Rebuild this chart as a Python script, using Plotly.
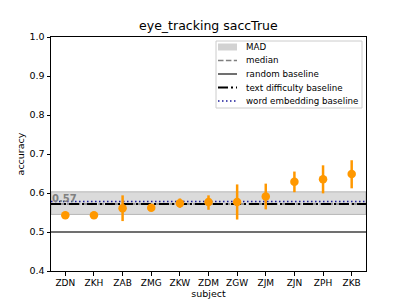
import plotly.graph_objects as go

subjects = ["ZDN", "ZKH", "ZAB", "ZMG", "ZKW", "ZDM", "ZGW", "ZJM", "ZJN", "ZPH", "ZKB"]
accuracy = [0.543, 0.543, 0.561, 0.562, 0.574, 0.577, 0.577, 0.591, 0.629, 0.635, 0.649]
err_plus = [0.0, 0.0, 0.033, 0.008, 0.012, 0.017, 0.045, 0.033, 0.026, 0.036, 0.035]
err_minus = [0.0, 0.0, 0.033, 0.008, 0.012, 0.020, 0.045, 0.033, 0.027, 0.036, 0.037]

median_val = 0.572
mad_low = 0.545
mad_high = 0.603
random_baseline = 0.5
text_difficulty_baseline = 0.572
word_embedding_baseline = 0.578

legend_labels = ["MAD", "median", "random baseline", "text difficulty baseline", "word embedding baseline"]

x_range = [-0.5, len(subjects) - 0.5]
xs = list(range(len(subjects)))

MAD_FILL = "rgba(200,200,200,0.65)"
styles = {
    "median": dict(color="#7f7f7f", dash="5.5px,2.4px", width=1.5),
    "random baseline": dict(color="#404040", dash="solid", width=1.5),
    "text difficulty baseline": dict(color="black", dash="10px,3px,2px,3px", width=2),
    "word embedding baseline": dict(color="#1a1a9a", dash="1.5px,2.5px", width=1.5),
}

fig = go.Figure()

fig.add_trace(go.Scatter(
    x=[x_range[0], x_range[1], x_range[1], x_range[0], x_range[0]],
    y=[mad_low, mad_low, mad_high, mad_high, mad_low],
    fill="toself", fillcolor=MAD_FILL,
    line=dict(color="rgba(170,170,170,0.8)", width=1),
    mode="lines", name="MAD", hoverinfo="skip", showlegend=False))

for name, val in [("median", median_val), ("random baseline", random_baseline),
                  ("text difficulty baseline", text_difficulty_baseline),
                  ("word embedding baseline", word_embedding_baseline)]:
    fig.add_trace(go.Scatter(x=x_range, y=[val]*2, mode="lines", line=styles[name],
                             name=name, showlegend=False))

fig.add_trace(go.Scatter(
    x=xs, y=accuracy, mode="markers",
    marker=dict(color="#ff9800", size=8.5),
    error_y=dict(type="data", array=err_plus, arrayminus=err_minus,
                 color="#ff9800", thickness=2.5, width=0),
    showlegend=False))

fig.add_annotation(x=x_range[0], y=median_val, text="<b>0.57</b>", showarrow=False,
                   xanchor="left", yanchor="bottom", xshift=-1, yshift=-2,
                   font=dict(color="#808080", size=10))

# custom legend (matplotlib-like compact spacing), plot-area paper coords
PX_W, PX_H = 315.0, 234.0
def px(xp):
    return xp / PX_W
def py(yp):
    return 1 - yp / PX_H

fig.add_shape(type="rect", xref="paper", yref="paper",
              x0=px(165), x1=px(311), y0=py(71), y1=py(4),
              line=dict(color="#cccccc", width=1), fillcolor="rgba(255,255,255,0.85)", layer="above")
row_y = [10, 23.5, 37, 50.5, 64]
hx0, hx1, tx = 167, 186, 193
for lab, ry in zip(legend_labels, row_y):
    if lab == "MAD":
        fig.add_shape(type="rect", xref="paper", yref="paper",
                      x0=px(hx0), x1=px(hx1), y0=py(ry + 3.5), y1=py(ry - 3.5),
                      line=dict(width=0), fillcolor="rgba(210,210,210,1)", layer="above")
    else:
        st = styles[lab]
        fig.add_shape(type="line", xref="paper", yref="paper",
                      x0=px(hx0), x1=px(hx1), y0=py(ry), y1=py(ry),
                      line=dict(color=st["color"], dash=st["dash"], width=st["width"]), layer="above")
    fig.add_annotation(xref="paper", yref="paper", x=px(tx), y=py(ry), text=lab,
                       showarrow=False, xanchor="left", yanchor="middle",
                       font=dict(size=8.7, color="black"))

fig.update_layout(
    width=407, height=305,
    margin=dict(l=51, r=41, t=37, b=34, autoexpand=False),
    paper_bgcolor="white", plot_bgcolor="white",
    font=dict(family="DejaVu Sans", size=9, color="black"),
    title=dict(text="eye_tracking saccTrue", x=0.512, xanchor="center", y=0.915, yanchor="middle",
               font=dict(size=12.5)),
    showlegend=False,
)
fig.update_xaxes(range=x_range, tickmode="array", tickvals=xs, ticktext=subjects, automargin=False,
                 showgrid=False, zeroline=False, showline=True, linecolor="black", linewidth=1,
                 mirror=True, ticks="outside", ticklen=3.5, tickcolor="black",
                 title=dict(text="subject", standoff=2, font=dict(size=9.5)), tickfont=dict(size=9))
fig.update_yaxes(range=[0.4, 1.0], tickvals=[0.4, 0.5, 0.6, 0.7, 0.8, 0.9, 1.0], automargin=False,
                 ticktext=["0.4", "0.5", "0.6", "0.7", "0.8", "0.9", "1.0"],
                 showgrid=False, zeroline=False, showline=True, linecolor="black", linewidth=1,
                 mirror=True, ticks="outside", ticklen=3.5, tickcolor="black",
                 title=dict(text="accuracy", standoff=3, font=dict(size=9.5)), tickfont=dict(size=9.5))

fig.write_html("out.html", config={"displayModeBar": False},
               post_script="document.body.style.margin='0';document.body.style.overflow='hidden';")
